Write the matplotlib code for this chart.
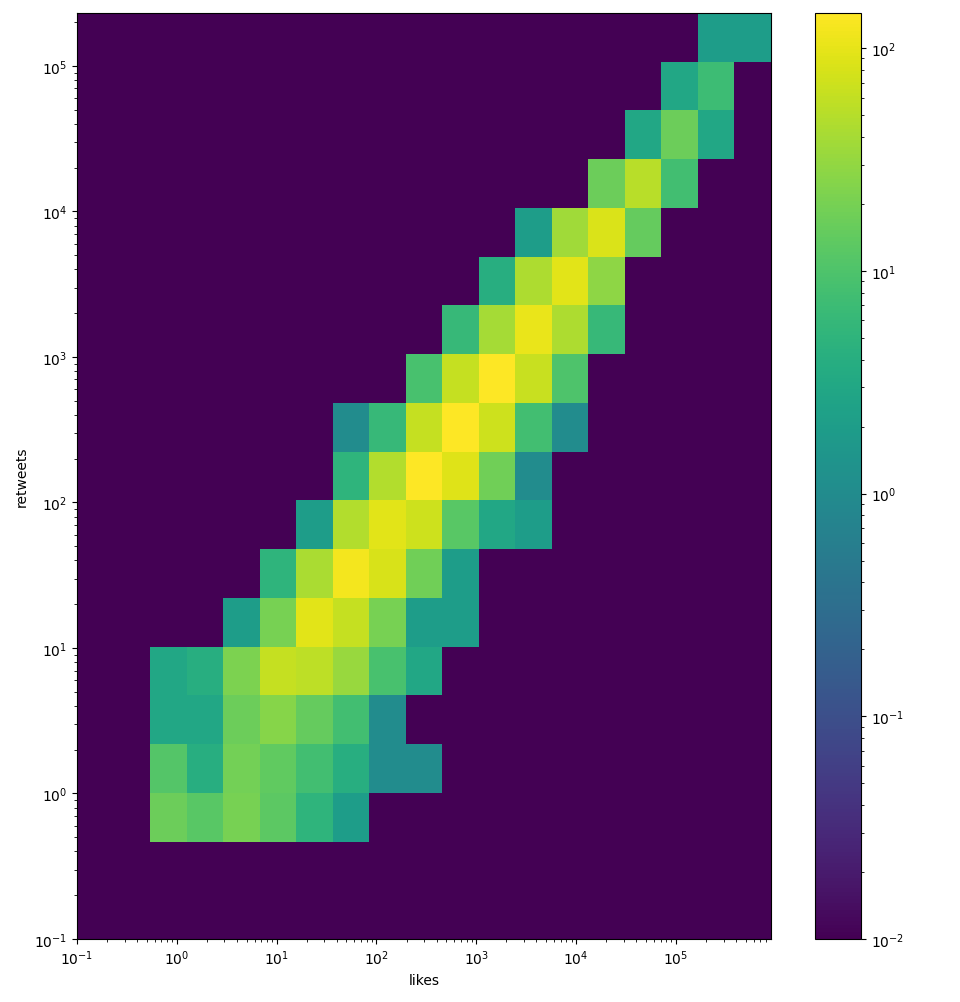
import numpy as np
import matplotlib
matplotlib.use("Agg")
import matplotlib.pyplot as plt
from matplotlib.colors import LogNorm

# Bin layout (log-spaced, 19 bins each axis)
n_bins = 19
x_min, x_max = 0.1, 8.95e5
y_min, y_max = 0.1, 2.31e5

# Non-empty cells: (row index along retweets, column index along likes, count)
cell_rows = [2, 2, 2, 2, 2, 2,
             3, 3, 3, 3, 3, 3, 3, 3,
             4, 4, 4, 4, 4, 4, 4,
             5, 5, 5, 5, 5, 5, 5, 5,
             6, 6, 6, 6, 6, 6, 6,
             7, 7, 7, 7, 7, 7,
             8, 8, 8, 8, 8, 8, 8,
             9, 9, 9, 9, 9, 9,
             10, 10, 10, 10, 10, 10, 10,
             11, 11, 11, 11, 11,
             12, 12, 12, 12, 12,
             13, 13, 13, 13,
             14, 14, 14, 14,
             15, 15, 15,
             16, 16, 16,
             17, 17,
             18, 18]
cell_cols = [2, 3, 4, 5, 6, 7,
             2, 3, 4, 5, 6, 7, 8, 9,
             2, 3, 4, 5, 6, 7, 8,
             2, 3, 4, 5, 6, 7, 8, 9,
             4, 5, 6, 7, 8, 9, 10,
             5, 6, 7, 8, 9, 10,
             6, 7, 8, 9, 10, 11, 12,
             7, 8, 9, 10, 11, 12,
             7, 8, 9, 10, 11, 12, 13,
             9, 10, 11, 12, 13,
             10, 11, 12, 13, 14,
             11, 12, 13, 14,
             12, 13, 14, 15,
             14, 15, 16,
             15, 16, 17,
             16, 17,
             17, 18]
cell_counts = [17, 12, 20, 13, 5, 2,
               11, 4, 19, 14, 8, 4, 1, 1,
               3, 3, 17, 25, 15, 8, 1,
               3, 4, 22, 62, 55, 33, 9, 3,
               2, 20, 92, 62, 20, 2, 2,
               5, 42, 120, 80, 18, 2,
               2, 47, 95, 70, 12, 3, 2,
               5, 47, 140, 90, 18, 1,
               1, 6, 62, 144, 70, 8, 1,
               9, 62, 144, 65, 10,
               6, 40, 105, 45, 6,
               4, 44, 92, 28,
               2, 37, 85, 15,
               17, 52, 8,
               3, 17, 3,
               3, 7,
               2, 2]

floor_value = 0.01

x_edges = np.logspace(np.log10(x_min), np.log10(x_max), n_bins + 1)
y_edges = np.logspace(np.log10(y_min), np.log10(y_max), n_bins + 1)

H = np.full((n_bins, n_bins), floor_value)
for r, c, v in zip(cell_rows, cell_cols, cell_counts):
    H[r, c] = v

fig = plt.figure(figsize=(9.6, 10.03), dpi=100)
ax = fig.add_axes([77/960, 63/1003, 694/960, 926/1003])
cax = fig.add_axes([815/960, 63/1003, 46/960, 926/1003])

mesh = ax.pcolormesh(x_edges, y_edges, H, cmap="viridis",
                     norm=LogNorm(vmin=floor_value, vmax=max(cell_counts)))
ax.set_xscale("log")
ax.set_yscale("log")
ax.set_xlim(x_edges[0], x_edges[-1])
ax.set_ylim(y_edges[0], y_edges[-1])
ax.set_xlabel("likes")
ax.set_ylabel("retweets")

fig.colorbar(mesh, cax=cax)

fig.savefig("out.png", dpi=100)
